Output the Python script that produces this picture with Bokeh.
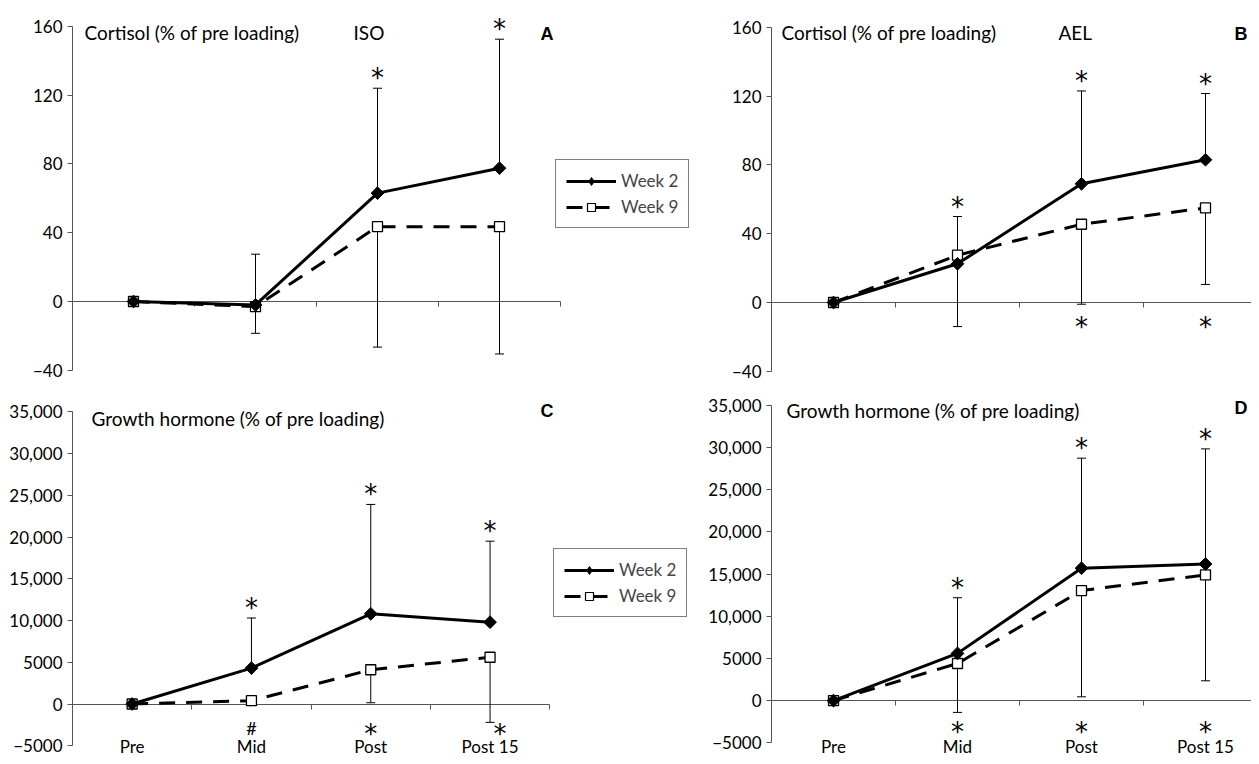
import numpy as np
from bokeh.plotting import figure
from bokeh.models import (ColumnDataSource, Range1d, LinearAxis, FixedTicker,
                          Whisker, TeeHead, Legend, LegendItem, Label)
from bokeh.layouts import column, row
from bokeh.embed import file_html
from bokeh.resources import INLINE

# ------------------------------------------------------------------ data
categories = ["Pre", "Mid", "Post", "Post 15"]
series_labels = ["Week 2", "Week 9"]

iso_cortisol_week2 = [0, -2, 63, 77.5]
iso_cortisol_week2_sd = [0, 29.5, 61, 75]
iso_cortisol_week9 = [0, -3, 43.5, 43.5]
iso_cortisol_week9_sd = [0, 15.5, 70, 74]

ael_cortisol_week2 = [0, 22.5, 69, 83]
ael_cortisol_week2_sd = [0, 27.5, 54, 38.5]
ael_cortisol_week9 = [0, 27.5, 45.5, 55]
ael_cortisol_week9_sd = [0, 41.5, 46.5, 44.5]

iso_gh_week2 = [0, 4300, 10800, 9800]
iso_gh_week2_sd = [0, 6000, 13100, 9700]
iso_gh_week9 = [0, 400, 4100, 5600]
iso_gh_week9_sd = [0, 300, 3950, 7800]

ael_gh_week2 = [0, 5600, 15700, 16200]
ael_gh_week2_sd = [0, 6600, 13050, 13650]
ael_gh_week9 = [0, 4400, 13050, 14900]
ael_gh_week9_sd = [0, 5800, 12600, 12550]

cortisol_ticks = [-40, 0, 40, 80, 120, 160]
cortisol_tick_labels = ["\u221240", "0", "40", "80", "120", "160"]
gh_ticks = [-5000, 0, 5000, 10000, 15000, 20000, 25000, 30000, 35000]
gh_tick_labels = ["\u22125000", "0", "5000", "10,000", "15,000", "20,000",
                  "25,000", "30,000", "35,000"]

iso_cortisol_sig_above = ["", "", "*", "*"]
iso_cortisol_sig_below = ["", "", "", ""]
ael_cortisol_sig_above = ["", "*", "*", "*"]
ael_cortisol_sig_below = ["", "", "*", "*"]
iso_gh_sig_above = ["", "*", "*", "*"]
iso_gh_sig_below = ["", "#", "*", "*"]
ael_gh_sig_above = ["", "*", "*", "*"]
ael_gh_sig_below = ["", "*", "*", "*"]

cortisol_title = "Cortisol (% of pre loading)"
gh_title = "Growth hormone (% of pre loading)"

# ------------------------------------------------------------------ style
FONT = "Lato"
STAR_FONT = "DejaVu Sans"
AX = "#555555"

# geometry of every panel in page pixels
GEOM = {
    "A": dict(ox=0, oy=0, w=695, h=386, x0=72, dx=122.0, y0=301.0, sy=344.0 / 200),
    "B": dict(ox=695, oy=0, w=556, h=386, x0=771, dx=124.0, y0=302.0, sy=344.0 / 200),
    "C": dict(ox=0, oy=386, w=695, h=370, x0=72, dx=119.3, y0=703.5, sy=334.0 / 40000),
    "D": dict(ox=695, oy=386, w=556, h=370, x0=771, dx=124.0, y0=700.1, sy=337.3 / 40000),
}


def make_panel(g, w2, w2sd, w9, w9sd, ticks, tick_labels, sig_above, sig_below,
               texts, legend_box=None, show_cats=False, below_off=24):
    X = lambda px: (px - g["x0"]) / g["dx"]
    Y = lambda py: (g["y0"] - py) / g["sy"]
    p = figure(width=g["w"], height=g["h"],
               x_range=Range1d(X(g["ox"]), X(g["ox"] + g["w"])),
               y_range=Range1d(Y(g["oy"] + g["h"]), Y(g["oy"])),
               x_axis_location=None, y_axis_location=None,
               toolbar_location=None, output_backend="svg",
               min_border=0, outline_line_color=None,
               background_fill_color="white", border_fill_color="white")
    p.grid.visible = False
    n = len(categories)
    xs = [i + 0.5 for i in range(n)]

    # y axis crossing at x = 0
    yax = LinearAxis(fixed_location=0, bounds=(ticks[0], ticks[-1]),
                     ticker=FixedTicker(ticks=ticks),
                     major_label_overrides={t: l for t, l in zip(ticks, tick_labels)},
                     axis_line_color=AX, major_tick_line_color=AX,
                     major_tick_out=5, major_tick_in=0, minor_tick_line_color=None,
                     major_label_standoff=5, major_label_text_font=FONT,
                     major_label_text_font_size="17px", major_label_text_color="black")
    yax.level = "underlay"
    p.add_layout(yax, "left")
    # x axis crossing at y = 0, ticks between categories
    xax = LinearAxis(fixed_location=0, bounds=(0, n),
                     ticker=FixedTicker(ticks=list(range(1, n + 1))),
                     axis_line_color=AX, major_tick_line_color=AX,
                     major_tick_out=5, major_tick_in=0, minor_tick_line_color=None,
                     major_label_text_alpha=0, major_label_text_font_size="1px")
    xax.level = "underlay"
    p.add_layout(xax, "below")
    if show_cats:
        cax = LinearAxis(fixed_location=Y(735), ticker=FixedTicker(ticks=xs),
                         major_label_overrides={x: c for x, c in zip(xs, categories)},
                         axis_line_color=None, major_tick_line_color=None,
                         major_tick_out=0, major_tick_in=0, minor_tick_line_color=None,
                         major_label_standoff=0, major_label_text_font=FONT,
                         major_label_text_font_size="17px", major_label_text_color="black")
        p.add_layout(cax, "below")

    # error bars: week 2 upward, week 9 downward
    i2 = [i for i in range(n) if w2sd[i] > 0]
    s2 = ColumnDataSource(dict(x=[xs[i] for i in i2], lo=[w2[i] for i in i2],
                               hi=[w2[i] + w2sd[i] for i in i2]))
    wh2 = Whisker(source=s2, base="x", lower="lo", upper="hi", dimension="height",
                  line_color="black", line_width=1, lower_head=None,
                  upper_head=TeeHead(size=9, line_color="black", line_width=1),
                  level="underlay")
    p.add_layout(wh2)
    i9 = [i for i in range(n) if w9sd[i] > 0]
    s9 = ColumnDataSource(dict(x=[xs[i] for i in i9], lo=[w9[i] - w9sd[i] for i in i9],
                               hi=[w9[i] for i in i9]))
    wh9 = Whisker(source=s9, base="x", lower="lo", upper="hi", dimension="height",
                  line_color="black", line_width=1, upper_head=None,
                  lower_head=TeeHead(size=9, line_color="black", line_width=1),
                  level="underlay")
    p.add_layout(wh9)

    src9 = ColumnDataSource(dict(x=xs, y=w9))
    src2 = ColumnDataSource(dict(x=xs, y=w2))
    l9 = p.line("x", "y", source=src9, line_color="black", line_width=3, line_dash="16 11")
    p.scatter("x", "y", source=src9, marker="square", size=10,
              fill_color="white", line_color="black", line_width=1.3)
    l2 = p.line("x", "y", source=src2, line_color="black", line_width=3)
    p.scatter("x", "y", source=src2, marker="square", angle=np.pi / 4, size=9,
              fill_color="black", line_color="black")
    # legend-only marker proxies (no data, nothing drawn in the plot)
    proxy = ColumnDataSource(dict(x=[np.nan], y=[np.nan]))
    k2 = p.scatter("x", "y", source=proxy, marker="diamond", size=12,
                   fill_color="black", line_color="black")
    k9 = p.scatter("x", "y", source=proxy, marker="square", size=9,
                   fill_color="white", line_color="black", line_width=1.2)

    # significance marks
    tx, ty, tt, txo, tyo, tfs, tff = [], [], [], [], [], [], []
    for i in range(n):
        if sig_above[i]:
            tx.append(xs[i]); ty.append(w2[i] + w2sd[i]); tt.append(sig_above[i])
            txo.append(0); tyo.append(-16 + 6); tfs.append("26px"); tff.append(STAR_FONT)
        if sig_below[i]:
            cap_px = -(w9[i] - w9sd[i]) * g["sy"]
            tx.append(xs[i]); ty.append(0); tt.append(sig_below[i])
            txo.append(10 if cap_px > 15 else 0)
            if sig_below[i] == "*":
                tyo.append(below_off + 6); tfs.append("26px"); tff.append(STAR_FONT)
            else:
                tyo.append(below_off); tfs.append("18px"); tff.append(FONT)
    if tx:
        ts = ColumnDataSource(dict(x=tx, y=ty, t=tt, xo=txo, yo=tyo, fs=tfs, ff=tff))
        p.text("x", "y", text="t", source=ts, x_offset="xo", y_offset="yo",
               text_font="ff", text_font_size="fs", text_color="black",
               text_align="center", text_baseline="middle")

    for (txt, px, py, bold) in texts:
        p.add_layout(Label(x=X(px), y=Y(py), text=txt,
                           text_font="Liberation Sans" if bold else FONT,
                           text_font_style="bold" if bold else "normal",
                           text_font_size="18px" if bold else "19px",
                           text_color="black", text_align="left",
                           text_baseline="alphabetic"))

    if legend_box is not None:
        left, bottom = legend_box
        leg = Legend(items=[LegendItem(label=series_labels[0], renderers=[l2, k2]),
                            LegendItem(label=series_labels[1], renderers=[l9, k9])],
                     location=(left - g["ox"], g["oy"] + g["h"] - bottom),
                     orientation="vertical", glyph_width=50, glyph_height=20,
                     label_standoff=5, padding=10, spacing=5, margin=0,
                     border_line_color="black", border_line_width=1,
                     background_fill_color="white", background_fill_alpha=1,
                     label_text_font=FONT, label_text_font_size="17px",
                     label_height=20)
        p.add_layout(leg, "center")
    return p


pA = make_panel(GEOM["A"], iso_cortisol_week2, iso_cortisol_week2_sd,
                iso_cortisol_week9, iso_cortisol_week9_sd,
                cortisol_ticks, cortisol_tick_labels,
                iso_cortisol_sig_above, iso_cortisol_sig_below,
                [(cortisol_title, 84, 32, False), ("ISO", 353, 32, False),
                 ("A", 540, 33, True)],
                legend_box=(555, 228))
pB = make_panel(GEOM["B"], ael_cortisol_week2, ael_cortisol_week2_sd,
                ael_cortisol_week9, ael_cortisol_week9_sd,
                cortisol_ticks, cortisol_tick_labels,
                ael_cortisol_sig_above, ael_cortisol_sig_below,
                [(cortisol_title, 781, 32, False), ("AEL", 1058, 32, False),
                 ("B", 1234, 33, True)],
                below_off=18)
pC = make_panel(GEOM["C"], iso_gh_week2, iso_gh_week2_sd,
                iso_gh_week9, iso_gh_week9_sd,
                gh_ticks, gh_tick_labels,
                iso_gh_sig_above, iso_gh_sig_below,
                [(gh_title, 91, 418, False), ("C", 540, 410, True)],
                legend_box=(553, 617), show_cats=True, below_off=24)
pD = make_panel(GEOM["D"], ael_gh_week2, ael_gh_week2_sd,
                ael_gh_week9, ael_gh_week9_sd,
                gh_ticks, gh_tick_labels,
                ael_gh_sig_above, ael_gh_sig_below,
                [(gh_title, 786, 410, False), ("D", 1234, 407, True)],
                show_cats=True, below_off=25)

layout = column(row(pA, pB, spacing=0), row(pC, pD, spacing=0), spacing=0)
open("out.html", "w").write(file_html(layout, INLINE))
